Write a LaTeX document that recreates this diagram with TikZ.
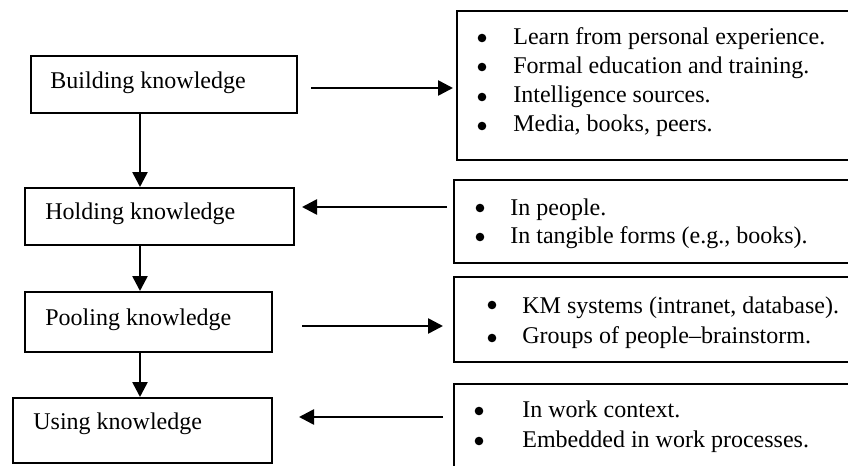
\documentclass[tikz,border=0pt]{standalone}
\usepackage{fontspec}
\setmainfont{Liberation Serif}
\usetikzlibrary{arrows.meta}
\begin{document}
\begin{tikzpicture}[x=0.5pt,y=-0.5pt,
  box/.style={draw, line width=1pt, rectangle, inner sep=0pt, anchor=north west},
  lbl/.style={inner sep=0pt, anchor=base west, font=\fontsize{12}{14}\selectfont},
  dot/.style={circle, fill, inner sep=0pt, minimum size=4.3pt},
  arr/.style={line width=1.3pt, -{Triangle[length=7.5pt,width=7.5pt]}}]
\useasboundingbox (0,0) rectangle (848,466);
\clip (0,0) rectangle (848,466);
% left boxes
\node[box, minimum width=133pt, minimum height=28.5pt] (b1) at (30,55) {};
\node[box, minimum width=134.5pt, minimum height=28.5pt] (b2) at (24,187) {};
\node[box, minimum width=123.5pt, minimum height=30pt] (b3) at (24,291) {};
\node[box, minimum width=129.5pt, minimum height=32.5pt] (b4) at (12,397) {};
\node[lbl] (t1) at (50,89) {Building knowledge};
\node[lbl] (t2) at (45,220) {Holding knowledge};
\node[lbl] (t3) at (45,325) {Pooling knowledge};
\node[lbl] (t4) at (33,429) {Using knowledge};
% right boxes (open at the right edge)
\node[box, minimum width=225pt, minimum height=74.5pt] (R1) at (456,10) {};
\node[box, minimum width=225pt, minimum height=41.5pt] (R2) at (453,179) {};
\node[box, minimum width=225pt, minimum height=42.5pt] (R3) at (453,276) {};
\node[box, minimum width=225pt, minimum height=50pt] (R4) at (453,383) {};
% bullets
\node[dot] (d1a) at (482,38) {};
\node[dot] (d1b) at (482,67) {};
\node[dot] (d1c) at (482,97) {};
\node[dot] (d1d) at (482,126) {};
\node[dot] (d2a) at (480,208) {};
\node[dot] (d2b) at (480,237) {};
\node[dot] (d3a) at (492,305) {};
\node[dot] (d3b) at (492,338) {};
\node[dot] (d4a) at (479,411) {};
\node[dot] (d4b) at (479,441) {};
% list texts
\node[lbl] (r1a) at (513,45) {Learn from personal experience.};
\node[lbl] (r1b) at (513,74) {Formal education and training.};
\node[lbl] (r1c) at (513,103) {Intelligence sources.};
\node[lbl] (r1d) at (513,132) {Media, books, peers.};
\node[lbl] (r2a) at (510,215) {In people.};
\node[lbl] (r2b) at (510,243) {In tangible forms (e.g., books).};
\node[lbl] (r3a) at (522,313) {KM systems (intranet, database).};
\node[lbl] (r3b) at (522,343) {Groups of people–brainstorm.};
\node[lbl] (r4a) at (522,417) {In work context.};
\node[lbl] (r4b) at (522,447) {Embedded in work processes.};
% connectors
\coordinate (vx) at (140,0);
\draw[arr] (vx |- b1.south) -- (vx |- b2.north);
\draw[arr] (vx |- b2.south) -- (vx |- b3.north);
\draw[arr] (vx |- b3.south) -- (vx |- b4.north);
\draw[arr] ([xshift=6.5pt]b1.east |- 0,88) -- ([xshift=-1.5pt]R1.west |- 0,88);
\draw[arr] ([xshift=-3pt]R2.west |- 0,207) -- ([xshift=3.5pt]b2.east |- 0,207);
\draw[arr] ([xshift=14.5pt]b3.east |- 0,326) -- ([xshift=-5pt]R3.west |- 0,326);
\draw[arr] ([xshift=-5pt]R4.west |- 0,417) -- ([xshift=13pt]b4.east |- 0,417);
\end{tikzpicture}
\end{document}
